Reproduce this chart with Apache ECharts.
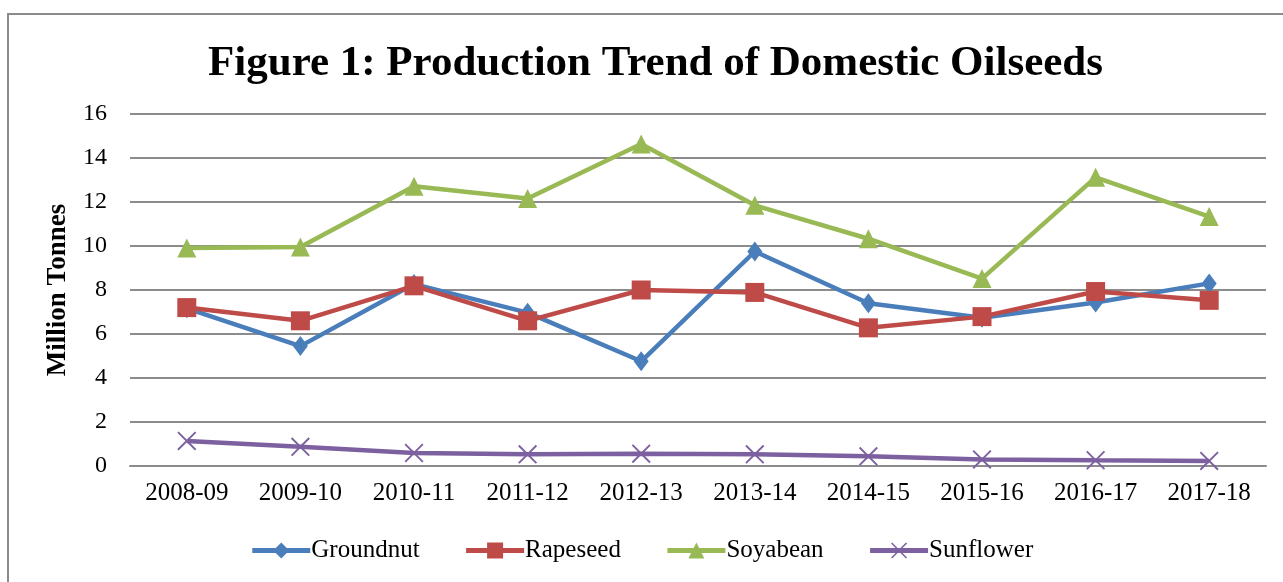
<!DOCTYPE html>
<html>
<head>
<meta charset="utf-8">
<script src="https://cdn.jsdelivr.net/npm/echarts@6/dist/echarts.min.js"></script>
<style>
  html, body { margin: 0; padding: 0; background: #fff; }
  #myChart { width: 1283px; height: 582px; }
</style>
</head>
<body>
<div id="myChart"></div>
<script>
// data
var years = ['2008-09', '2009-10', '2010-11', '2011-12', '2012-13', '2013-14', '2014-15', '2015-16', '2016-17', '2017-18'];
var groundnut = [7.17, 5.45, 8.27, 6.97, 4.76, 9.75, 7.40, 6.74, 7.43, 8.30];
var rapeseed = [7.20, 6.60, 8.19, 6.60, 8.00, 7.89, 6.28, 6.79, 7.93, 7.53];
var soyabean = [9.91, 9.95, 12.72, 12.16, 14.64, 11.85, 10.33, 8.52, 13.12, 11.34];
var sunflower = [1.14, 0.87, 0.59, 0.53, 0.56, 0.53, 0.44, 0.30, 0.26, 0.23];
var yTicks = [0, 16, 2]; // min, max, interval

var serif = '"Liberation Serif", "DejaVu Serif", serif';
var xSymbol = 'path://M0,0.7L0.7,0L10,9.3L9.3,10ZM9.3,0L10,0.7L0.7,10L0,9.3Z';

function mkSeries(name, data, color, symbol, size) {
    return {
        name: name,
        type: 'line',
        data: data,
        symbol: symbol,
        symbolSize: size,
        showAllSymbol: true,
        lineStyle: { color: color, width: 4.5 },
        itemStyle: { color: color },
        emphasis: { disabled: true },
        animation: false
    };
}

var myChart = echarts.init(document.getElementById('myChart'));
myChart.setOption({
    backgroundColor: '#fff',
    textStyle: { fontFamily: serif },
    graphic: [{
        type: 'rect',
        shape: { x: 8, y: 14, width: 1300, height: 600 },
        style: { fill: 'none', stroke: '#8c8c8c', lineWidth: 2 },
        z: -1
    }],
    title: {
        text: 'Figure 1: Production Trend of Domestic Oilseeds',
        left: 203,
        top: 37,
        textStyle: { fontFamily: serif, fontWeight: 'bold', fontSize: 43, color: '#000' }
    },
    legend: {
        bottom: 14,
        left: 'center',
        itemWidth: 58,
        itemHeight: 20,
        itemGap: 44,
        lineStyle: { width: 5 },
        textStyle: { fontFamily: serif, fontSize: 25, color: '#000', padding: [0, 0, 0, -4] },
        data: ['Groundnut', 'Rapeseed', 'Soyabean', 'Sunflower']
    },
    grid: { left: 130, right: 17, top: 114, bottom: 116 },
    xAxis: {
        type: 'category',
        data: years,
        boundaryGap: true,
        axisLine: { show: true, lineStyle: { color: '#8c8c8c', width: 2 } },
        axisTick: { show: false },
        axisLabel: { fontFamily: serif, fontSize: 25, color: '#000', margin: 15, interval: 0 }
    },
    yAxis: {
        type: 'value',
        min: yTicks[0],
        max: yTicks[1],
        interval: yTicks[2],
        name: 'Million Tonnes',
        nameLocation: 'middle',
        nameGap: 58,
        nameTextStyle: { fontFamily: serif, fontWeight: 'bold', fontSize: 27, color: '#000' },
        axisLine: { show: false },
        axisTick: { show: false },
        axisLabel: { fontFamily: serif, fontSize: 24, color: '#000', margin: 23 },
        splitLine: { lineStyle: { color: '#8c8c8c', width: 2 } }
    },
    series: [
        mkSeries('Groundnut', groundnut, '#4a7ebb', 'diamond', [15, 20]),
        mkSeries('Rapeseed', rapeseed, '#be4b48', 'rect', 19),
        mkSeries('Soyabean', soyabean, '#98b954', 'triangle', 19),
        mkSeries('Sunflower', sunflower, '#7d60a0', xSymbol, 19)
    ]
}, true);
</script>
</body>
</html>
